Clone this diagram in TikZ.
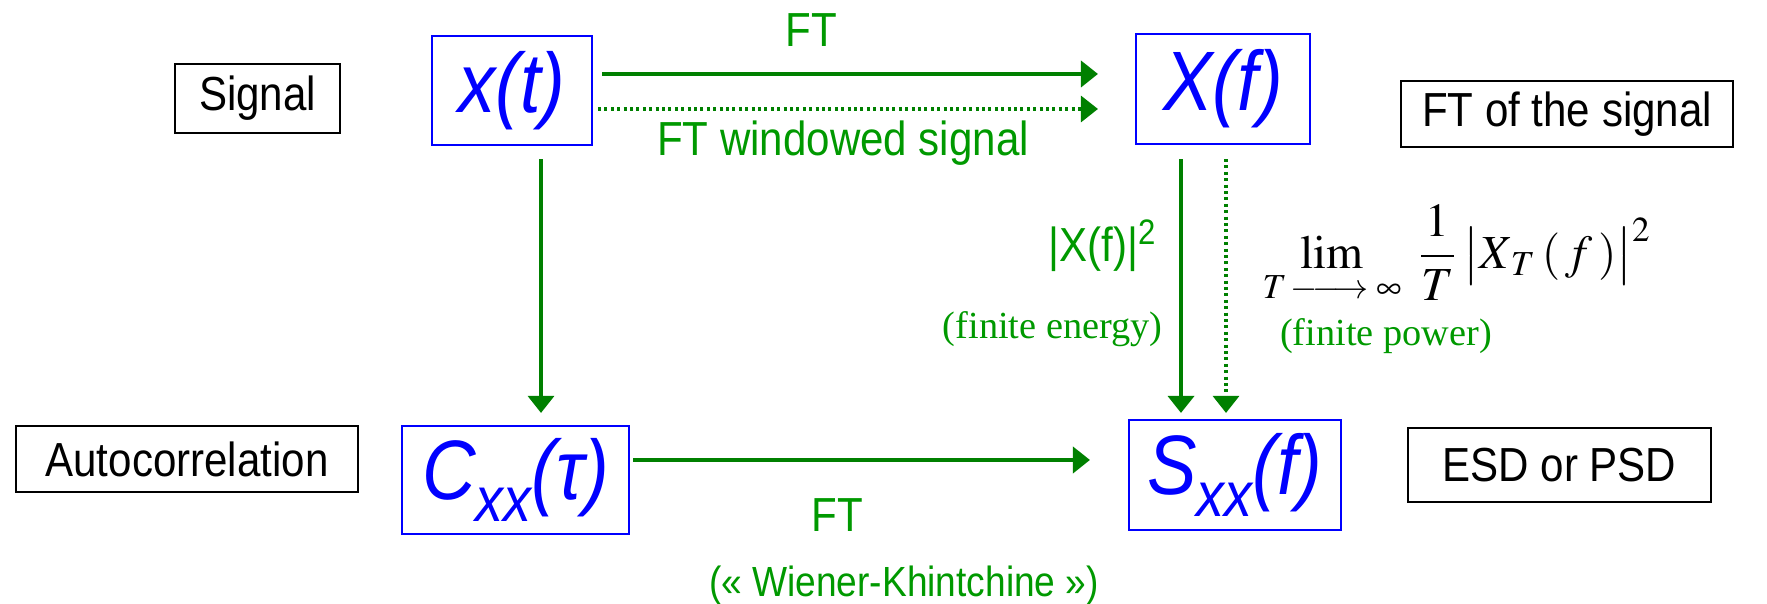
\documentclass[tikz,border=0pt]{standalone}
\usepackage{mathptmx}
\usepackage[no-math]{fontspec}
\usetikzlibrary{arrows.meta}
\newfontfamily\labelfont{Liberation Sans}[FakeStretch=0.88]
\newfontfamily\notefont{Liberation Serif}
\definecolor{arrowgreen}{RGB}{0,128,0}
\definecolor{textgreen}{RGB}{0,153,0}
\tikzset{
  namebox/.style={draw=black,line width=0.7pt,inner sep=0pt,
    font=\labelfont\fontsize{13.6}{16}\selectfont},
  sigbox/.style={draw=blue,line width=0.6pt,inner sep=0pt,text=blue,
    font=\labelfont\itshape\fontsize{24}{28}\selectfont},
  ftarrow/.style={arrowgreen,line width=1.1pt,-{Triangle[length=1.7mm,width=2.6mm]}},
  dotarrow/.style={ftarrow,line width=0.9pt,dash pattern=on 0.3mm off 0.34mm},
  greenlabel/.style={text=textgreen,inner sep=0pt,font=\labelfont\fontsize{13.6}{16}\selectfont},
  greennote/.style={text=textgreen,inner sep=0pt,font=\notefont\fontsize{10.9}{13}\selectfont}
}
\begin{document}
\begin{tikzpicture}[x=1cm,y=1cm,line cap=butt,line join=miter]
  \useasboundingbox (0,0) rectangle (17.67,6.04);
  % row names
  \node[namebox,minimum width=1.65cm,minimum height=0.69cm] (signal) at (2.575,5.055) {Signal};
  \node[namebox,minimum width=3.42cm,minimum height=0.66cm] (autocorr) at (1.87,1.45) {Autocorrelation};
  \node[namebox,minimum width=3.32cm,minimum height=0.66cm] (ftsig) at (15.67,4.90) {FT of the signal};
  \node[namebox,minimum width=3.03cm,minimum height=0.74cm] (esd) at (15.595,1.39) {ESD or PSD\hspace{2.4mm}};
  % the four quantities
  \node[sigbox,minimum width=1.60cm,minimum height=1.09cm] (xt) at (5.12,5.135) {x(t)};
  \node[sigbox,minimum width=1.74cm,minimum height=1.10cm] (Xf) at (12.23,5.15) {X(f)};
  \node[sigbox,minimum width=2.27cm,minimum height=1.08cm] (Cxx) at (5.155,1.24)
    {C\raisebox{-0.5ex}{\fontsize{18}{20}\selectfont xx}(τ)};
  \node[sigbox,minimum width=2.12cm,minimum height=1.10cm] (Sxx) at (12.35,1.29)
    {S\raisebox{-0.5ex}{\fontsize{18}{20}\selectfont xx}(f)};
  % connectors
  \draw[ftarrow,shorten <=0.9mm,shorten >=3.7mm] ([yshift=1.65mm]xt.east) -- ([yshift=1.65mm]xt.east -| Xf.west);
  \draw[dotarrow,shorten <=0.5mm,shorten >=3.7mm] ([yshift=-1.85mm]xt.east) -- ([yshift=-1.85mm]xt.east -| Xf.west);
  \draw[ftarrow,line width=0.9pt,shorten <=1.3mm,shorten >=1.2mm] ([xshift=2.9mm]xt.south) -- ([xshift=2.9mm]xt.south |- Cxx.north);
  \draw[ftarrow,shorten <=1.4mm,shorten >=0.6mm] ([xshift=-4.2mm]Xf.south) -- ([xshift=-4.2mm]Xf.south |- Sxx.north);
  \draw[dotarrow,shorten <=1.4mm,shorten >=0.6mm] ([xshift=0.3mm]Xf.south) -- ([xshift=0.3mm]Xf.south |- Sxx.north);
  \draw[ftarrow,shorten <=0.3mm,shorten >=3.8mm] ([yshift=2mm]Cxx.east) -- ([yshift=2mm]Cxx.east -| Sxx.west);
  % labels
  \node[greenlabel] (ftTop) at (8.11,5.74) {FT};
  \node[greenlabel] (ftWin) at (8.43,4.61) {FT windowed signal};
  \node[greenlabel,anchor=east] (energySq) at (11.58,3.58) {|X(f)|\textsuperscript{2}};
  \node[greennote,anchor=east] (energy) at (11.63,2.75) {(finite energy)};
  \node[anchor=west,inner sep=0pt,font=\fontsize{13.5}{15}\selectfont] (powerLim) at (12.62,3.50)
    {$\displaystyle \mathop{\mathrm{lim}}\limits_{T\,\relbar\joinrel\longrightarrow\;\infty}\;\frac{1}{T}\,\bigl|X_{\,T}\,(\,f\,)\bigr|^{2}$};
  \node[greennote] (power) at (13.86,2.68) {(finite power)};
  \node[greenlabel] (ftBot) at (8.37,0.89) {FT};
  \node[greenlabel,font=\labelfont\fontsize{12}{14}\selectfont] (wiener) at (9.04,0.18) {(« Wiener-Khintchine »)};
\end{tikzpicture}
\end{document}
